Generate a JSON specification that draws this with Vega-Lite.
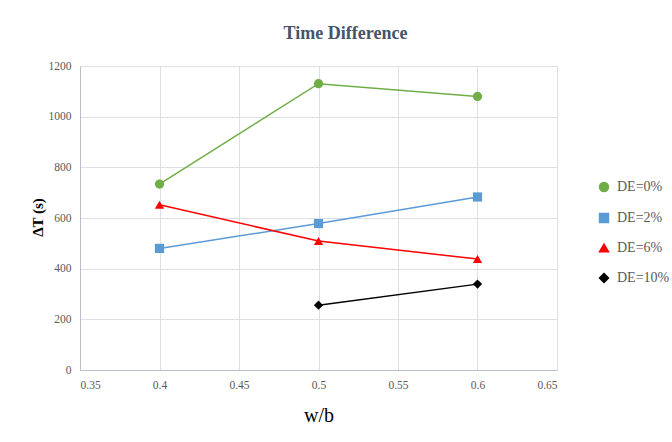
{
  "$schema": "https://vega.github.io/schema/vega-lite/v6.json",
  "width": 477,
  "height": 304,
  "autosize": "none",
  "padding": {"left": 80, "top": 66, "right": 115, "bottom": 72},
  "background": "white",
  "title": {
    "text": "Time Difference",
    "font": "Liberation Serif",
    "fontSize": 18,
    "fontWeight": "bold",
    "color": "#44546A",
    "anchor": "middle",
    "dx": 27,
    "offset": 17
  },
  "config": {
    "view": {"stroke": null},
    "axis": {
      "labelFont": "Liberation Serif",
      "labelFontSize": 11.5,
      "labelColor": "#595959",
      "gridColor": "#DCE0E6",
      "domainColor": "#B8C0CC",
      "ticks": false,
      "titleFont": "Liberation Serif",
      "titleColor": "#000000",
      "titleFontWeight": "normal"
    }
  },
  "data": {
    "values": [
      {"wb": 0.4, "dt": 734, "series": "DE=0%"},
      {"wb": 0.5, "dt": 1130, "series": "DE=0%"},
      {"wb": 0.6, "dt": 1080, "series": "DE=0%"},
      {"wb": 0.4, "dt": 480, "series": "DE=2%"},
      {"wb": 0.5, "dt": 578, "series": "DE=2%"},
      {"wb": 0.6, "dt": 683, "series": "DE=2%"},
      {"wb": 0.4, "dt": 652, "series": "DE=6%"},
      {"wb": 0.5, "dt": 509, "series": "DE=6%"},
      {"wb": 0.6, "dt": 438, "series": "DE=6%"},
      {"wb": 0.5, "dt": 256, "series": "DE=10%"},
      {"wb": 0.6, "dt": 339, "series": "DE=10%"}
    ]
  },
  "encoding": {
    "x": {
      "field": "wb",
      "type": "quantitative",
      "scale": {"domain": [0.35, 0.65], "nice": false, "zero": false},
      "axis": {
        "values": [0.35, 0.4, 0.45, 0.5, 0.55, 0.6, 0.65],
        "format": "~g",
        "labelPadding": 9,
        "title": "w/b",
        "titleFontSize": 20,
        "titleY": 51,
        "titleBaseline": "alphabetic"
      }
    },
    "y": {
      "field": "dt",
      "type": "quantitative",
      "scale": {"domain": [0, 1200], "nice": false},
      "axis": {
        "values": [0, 200, 400, 600, 800, 1000, 1200],
        "format": "d",
        "labelPadding": 9,
        "title": "ΔT (s)",
        "titleFontSize": 15,
        "titleFontWeight": "bold",
        "titleX": -38,
        "titleY": 151,
        "titleAngle": -90,
        "titleAlign": "center",
        "titleBaseline": "alphabetic"
      }
    },
    "color": {
      "field": "series",
      "type": "nominal",
      "scale": {
        "domain": ["DE=0%", "DE=2%", "DE=6%", "DE=10%"],
        "range": ["#70AD47", "#5B9BD5", "#FF0000", "#000000"]
      },
      "legend": {
        "title": null,
        "orient": "none",
        "legendX": 517,
        "legendY": 114,
        "padding": 0,
        "rowPadding": 15,
        "labelFont": "Liberation Serif",
        "labelFontSize": 14,
        "labelColor": "#595959",
        "labelOffset": 6,
        "symbolSize": 80
      }
    }
  },
  "layer": [
    {
      "mark": {"type": "line", "strokeWidth": 1.5},
      "encoding": {"detail": {"field": "series"}}
    },
    {
      "mark": {"type": "point", "filled": true, "opacity": 1},
      "encoding": {
        "shape": {
          "field": "series",
          "type": "nominal",
          "scale": {
            "domain": ["DE=0%", "DE=2%", "DE=6%", "DE=10%"],
            "range": ["circle", "square", "triangle-up", "diamond"]
          }
        },
        "size": {"value": 85}
      }
    }
  ]
}
